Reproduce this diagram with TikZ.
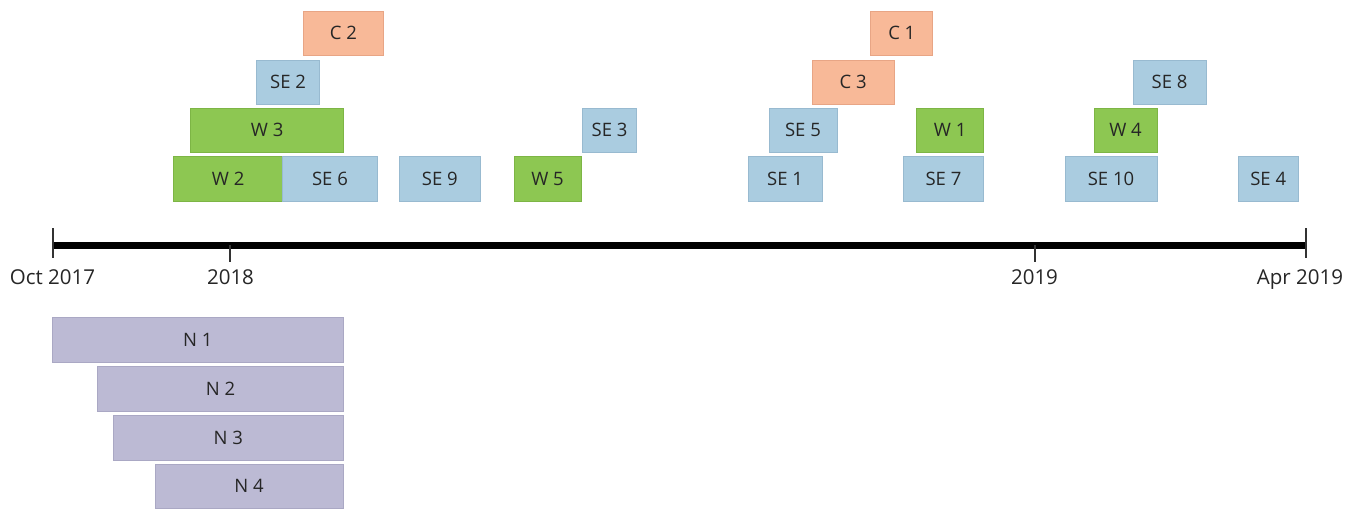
\documentclass[tikz,border=0pt]{standalone}
\usepackage{fontspec}
\setmainfont{Open Sans}
\definecolor{txt}{HTML}{262626}
\definecolor{cfill}{HTML}{F8B998}
\definecolor{cdraw}{HTML}{E8A585}
\definecolor{sefill}{HTML}{AACCE0}
\definecolor{sedraw}{HTML}{98BAD0}
\definecolor{wfill}{HTML}{8DC752}
\definecolor{wdraw}{HTML}{7DB545}
\definecolor{nfill}{HTML}{BCBAD4}
\definecolor{ndraw}{HTML}{AAA8C4}
% one activity bar given by its corners: name, style, x1, y1, x2, y2, label
\newcommand\tlbox[7]{%
  \pgfmathsetmacro\bw{#5-#3}\pgfmathsetmacro\bh{#6-#4}%
  \node[#2, minimum width=\bw pt, minimum height=\bh pt] (#1)
    at ({(#3+#5)/2},{(#4+#6)/2}) {#7};}
\begin{document}
\begin{tikzpicture}[x=1pt,y=-1pt,
  every node/.style={text=txt, inner sep=0pt, outer sep=0pt},
  bar/.style={rectangle, line width=0.7pt, font=\fontsize{18.5}{20}\selectfont},
  cbar/.style={bar, fill=cfill, draw=cdraw},
  sebar/.style={bar, fill=sefill, draw=sedraw},
  wbar/.style={bar, fill=wfill, draw=wdraw},
  nbar/.style={bar, fill=nfill, draw=ndraw},
  datelabel/.style={anchor=base, font=\fontsize{20.5}{22}\selectfont},
  axisline/.style={line width=7pt, black},
  tick/.style={line width=2pt, black!80}]
\fill[white] (0,0) rectangle (1358,509);
\useasboundingbox (0,0) rectangle (1358,509);

% time axis
\coordinate (tstart) at (52.7,245);
\coordinate (tend) at (1305.5,245);
\coordinate (t18) at (230,245);
\coordinate (t19) at (1034.7,245);
\draw[axisline] (tstart) -- (tend);
\draw[tick] ([yshift=17pt]tstart) -- ([yshift=-13pt]tstart);
\draw[tick] ([yshift=17pt]tend) -- ([yshift=-13pt]tend);
\draw[tick] (t18) -- ([yshift=-17pt]t18);
\draw[tick] (t19) -- ([yshift=-17pt]t19);
\node[datelabel] (loct) at (52.5,284) {Oct 2017};
\node[datelabel] (l18) at (230.5,284) {2018};
\node[datelabel] (l19) at (1034.5,284) {2019};
\node[datelabel] (lapr) at (1300,284) {Apr 2019};

% row 1
\tlbox{c2}{cbar}{303.6}{11.7}{383.4}{55}{C 2}
\tlbox{c1}{cbar}{870.8}{11.7}{932.8}{55}{C 1}
% row 2
\tlbox{se2}{sebar}{256.7}{60}{319.6}{104}{SE 2}
\tlbox{c3}{cbar}{812.3}{60}{894.2}{104}{C 3}
\tlbox{se8}{sebar}{1133.2}{60}{1206}{104}{SE 8}
% row 3
\tlbox{w3}{wbar}{190.8}{108.3}{343.5}{152.3}{W 3}
\tlbox{se3}{sebar}{582.4}{108.3}{636.6}{152.3}{SE 3}
\tlbox{se5}{sebar}{768.9}{108.3}{837}{152.3}{SE 5}
\tlbox{w1}{wbar}{916.8}{108.3}{983.6}{152.3}{W 1}
\tlbox{w4}{wbar}{1094}{108.3}{1157}{152.3}{W 4}
% row 4
\tlbox{w2}{wbar}{173.5}{156.7}{282.7}{201}{W 2}
\tlbox{se6}{sebar}{282.7}{156.7}{377.3}{201}{SE 6}
\tlbox{se9}{sebar}{399.8}{156.7}{480}{201}{SE 9}
\tlbox{w5}{wbar}{513.9}{156.7}{581.1}{201}{W 5}
\tlbox{se1}{sebar}{748}{156.7}{822.2}{201}{SE 1}
\tlbox{se7}{sebar}{903.3}{156.7}{983.6}{201}{SE 7}
\tlbox{se10}{sebar}{1065}{156.7}{1157}{201}{SE 10}
\tlbox{se4}{sebar}{1238}{156.7}{1298.4}{201}{SE 4}

% bars below the axis
\tlbox{n1}{nbar}{52.3}{317.3}{343.3}{362.3}{N 1}
\tlbox{n2}{nbar}{97.7}{366.7}{343.3}{411.7}{N 2}
\tlbox{n3}{nbar}{113.3}{415.7}{343.3}{460}{N 3}
\tlbox{n4}{nbar}{155}{464.3}{343.3}{508.3}{N 4}
\end{tikzpicture}
\end{document}
